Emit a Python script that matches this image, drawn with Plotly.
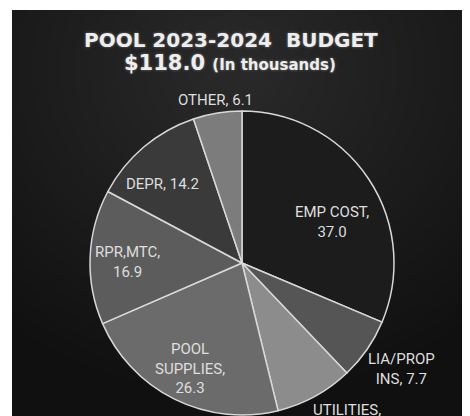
import math
import plotly.graph_objects as go

labels = ["EMP COST", "LIA/PROP INS", "UTILITIES", "POOL SUPPLIES", "RPR,MTC", "DEPR", "OTHER"]
display_names = ["EMP COST,<br>", "LIA/PROP<br>INS, ", "UTILITIES,<br>", "POOL<br>SUPPLIES,<br>", "RPR,MTC,<br>", "DEPR, ", "OTHER, "]
values = [37.0, 7.7, 9.8, 26.3, 16.9, 14.2, 6.1]
colors = ["#1c1c1c", "#555555", "#8c8c8c", "#6b6b6b", "#5c5c5c", "#3a3a3a", "#7c7c7c"]

# label placement style: distance from centre (px) and angular nudge (deg)
label_radius = [99, 192, 189, 118, 115, 112, 165]
label_nudge = [9, -1, -5, 0, -2, -5, 0]

W, H = 470, 416
texts = [f"{n}{v:.1f}" for n, v in zip(display_names, values)]

# pie centre / radius in figure pixels
pcx, pcy, half = 234, 255, 152

fig = go.Figure()
fig.add_trace(go.Pie(
    labels=labels, values=values, textinfo="none",
    sort=False, direction="clockwise", rotation=0, automargin=False,
    marker=dict(colors=colors, line=dict(color="#d8d8d8", width=1.5)),
    showlegend=False, hoverinfo="label+value",
    domain=dict(x=[(pcx - half) / W, (pcx + half) / W],
                y=[(H - pcy - half) / H, (H - pcy + half) / H]),
))

total = sum(values)
annotations = []
cum = 0.0
for txt, v, rad, nud in zip(texts, values, label_radius, label_nudge):
    theta = math.radians((cum + v / 2) / total * 360 + nud)
    cum += v
    px = pcx + rad * math.sin(theta)
    py = pcy - rad * math.cos(theta)
    annotations.append(dict(text=txt, x=px / W, y=(H - py) / H, xref="paper", yref="paper",
                            showarrow=False, xanchor="center", yanchor="middle", align="center",
                            font=dict(family="Roboto", size=15, color="#dedede")))

shapes = [dict(type="rect", xref="paper", yref="paper", x0=0, x1=1, y0=0, y1=1,
               fillcolor="#101010", line=dict(width=0), layer="below")]
cx, cy = 228, 62
n = 24
for i in range(n):
    r = 340 * (1 - i / n) + 20
    shapes.append(dict(type="circle", xref="paper", yref="paper",
                       x0=(cx - r) / W, x1=(cx + r) / W,
                       y0=(H - cy - r * 0.9) / H, y1=(H - cy + r * 0.9) / H,
                       fillcolor="rgba(255,255,255,0.008)", line=dict(width=0), layer="below"))
shapes.append(dict(type="rect", xref="paper", yref="paper", x0=0, x1=1, y0=(H - 2) / H, y1=1.01,
                   fillcolor="white", line=dict(width=0), layer="below"))
shapes.append(dict(type="rect", xref="paper", yref="paper", x0=-0.01, x1=4 / W, y0=-0.01, y1=1.01,
                   fillcolor="white", line=dict(width=0), layer="below"))

title_font = dict(family="DejaVu Sans", color="#eeeeee", weight="bold",
                  shadow="0px 0px 3px rgba(255,255,255,0.35)")
annotations += [
    dict(text="POOL 2023-2024  BUDGET", x=223 / W, y=(H - 32) / H, xref="paper", yref="paper",
         showarrow=False, xanchor="center", yanchor="middle",
         font=dict(size=20, **title_font)),
    dict(text="$118.0 <span style='font-size:15px'>(In thousands)</span>", x=222 / W, y=(H - 55) / H,
         xref="paper", yref="paper", showarrow=False, xanchor="center", yanchor="middle",
         font=dict(size=21, **title_font)),
]

fig.update_layout(
    width=W, height=H,
    margin=dict(l=0, r=0, t=0, b=0, autoexpand=False),
    paper_bgcolor="white",
    shapes=shapes,
    annotations=annotations,
)

fig.write_html("out.html")
